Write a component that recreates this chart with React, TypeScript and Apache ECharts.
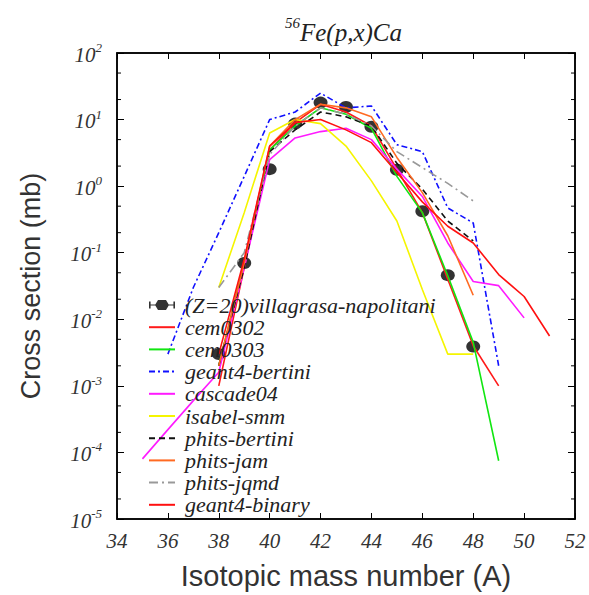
import React, { useEffect, useRef } from 'react';
import * as echarts from 'echarts';

// ---- data ----
const A_EXP = [38, 39, 40, 41, 42, 43, 44, 45, 46, 47, 48];
const EXP = [0.003, 0.07, 1.8, 8.7, 18, 15.5, 7.8, 1.76, 0.42, 0.046, 0.0039];

const A_CEM0302 = [38, 39, 40, 41, 42, 43, 44, 45, 46, 47, 48, 49];
const CEM0302 = [0.001, 0.06, 3.5, 9, 17, 13, 8, 1.8, 0.4, 0.04, 0.004, 0.001];

const A_CEM0303 = [38, 39, 40, 41, 42, 43, 44, 45, 46, 47, 48, 49];
const CEM0303 = [0.002, 0.07, 3.5, 8, 15, 12, 7.4, 1.4, 0.4, 0.045, 0.0045, 0.000075];

const A_G4BERT = [36, 37, 38, 39, 40, 41, 42, 43, 44, 45, 46, 47, 48, 49];
const G4BERT = [0.003, 0.03, 0.2, 1.4, 10, 13, 25, 15, 16, 4.2, 3.3, 0.47, 0.28, 0.002];

const A_CASCADE = [35, 36, 37, 38, 39, 40, 41, 42, 43, 44, 45, 46, 47, 48, 49, 50];
const CASCADE = [0.00008, 0.00022, 0.0006, 0.0016, 0.06, 2.5, 5.3, 6.6, 7.4, 5, 1.8, 0.7, 0.14, 0.037, 0.032, 0.0105];

const A_ISABEL = [38, 39, 40, 41, 42, 43, 44, 45, 46, 47, 48];
const ISABEL = [0.03, 0.4, 6.3, 10, 8.7, 4, 1.2, 0.3, 0.028, 0.003, 0.003];

const A_PBERT = [38, 39, 40, 41, 42, 43, 44, 45, 46, 47, 48];
const PBERT = [0.002, 0.06, 3.3, 7, 13, 11, 8, 2.2, 0.9, 0.3, 0.15];

const A_PJAM = [38, 39, 40, 41, 42, 43, 44, 45, 46, 47, 48];
const PJAM = [0.002, 0.07, 4, 10, 17, 15, 11, 2.7, 0.8, 0.18, 0.023];

const A_PJQMD = [38, 39, 40, 41, 42, 43, 44, 45, 46, 47, 48];
const PJQMD = [0.03, 0.1, 3, 8, 15, 12, 8, 3.3, 1.9, 1.1, 0.6];

const A_G4BIN = [38, 39, 40, 41, 42, 43, 44, 45, 46, 47, 48, 49, 50, 51];
const G4BIN = [0.003, 0.08, 4, 9, 10, 7, 4.5, 1.6, 0.58, 0.25, 0.14, 0.047, 0.022, 0.0056];

const MINOR_TICKS = [
  2e-5, 5e-5, 2e-4, 5e-4, 2e-3, 5e-3, 2e-2, 5e-2, 0.2, 0.5, 2, 5, 20, 50,
];

const EXP_NAME = '(Z=20)villagrasa-napolitani';

const LINES = [
  { name: 'cem0302', a: A_CEM0302, v: CEM0302, color: '#ff1a1a', type: 'solid' as any },
  { name: 'cem0303', a: A_CEM0303, v: CEM0303, color: '#11e611', type: 'solid' as any },
  { name: 'geant4-bertini', a: A_G4BERT, v: G4BERT, color: '#1010ff', type: [6, 3, 2, 3] as any },
  { name: 'cascade04', a: A_CASCADE, v: CASCADE, color: '#ff1aff', type: 'solid' as any },
  { name: 'isabel-smm', a: A_ISABEL, v: ISABEL, color: '#f5f500', type: 'solid' as any },
  { name: 'phits-bertini', a: A_PBERT, v: PBERT, color: '#111111', type: [6, 4] as any },
  { name: 'phits-jam', a: A_PJAM, v: PJAM, color: '#ff6a22', type: 'solid' as any },
  { name: 'phits-jqmd', a: A_PJQMD, v: PJQMD, color: '#999999', type: [9, 4, 2, 4] as any },
  { name: 'geant4-binary', a: A_G4BIN, v: G4BIN, color: '#ff1010', type: 'solid' as any },
];

const SERIF = 'Liberation Serif';
const SANS = 'Liberation Sans';

export default function App() {
  const ref = useRef<HTMLDivElement>(null);
  useEffect(() => {
    const chart = echarts.init(ref.current!, null, { renderer: 'svg' });
    const lineSeries = LINES.map((l) => ({
      type: 'line',
      name: l.name,
      data: l.a.map((a, i) => [a, l.v[i]]),
      symbol: 'none',
      showSymbol: false,
      lineStyle: { color: l.color, width: 1.6, type: l.type },
      itemStyle: { color: l.color },
      z: 3,
    }));
    const option: any = {
      animation: false,
      backgroundColor: '#ffffff',
      title: {
        text: '{s|56}{m|Fe(p,x)Ca}',
        left: 280,
        top: 10,
        textStyle: {
          fontWeight: 'normal',
          rich: {
            s: { fontFamily: SERIF, fontStyle: 'italic', fontWeight: 'normal', fontSize: 15, lineHeight: 15, verticalAlign: 'top', color: '#222' },
            m: { fontFamily: SERIF, fontStyle: 'italic', fontWeight: 'normal', fontSize: 25, lineHeight: 30, verticalAlign: 'bottom', color: '#222' },
          },
        },
      },
      grid: { left: 117, top: 53, right: 14, bottom: 75, show: true, borderColor: '#000', borderWidth: 1.5 },
      legend: {
        orient: 'vertical',
        left: 143,
        top: 289,
        itemWidth: 26,
        itemHeight: 12,
        itemGap: 0.2,
        textStyle: {
          fontFamily: SERIF,
          fontStyle: 'italic',
          fontSize: 22,
          lineHeight: 20,
          color: '#222',
          padding: [0, 0, 0, 5],
        },
        data: [
          {
            name: EXP_NAME,
            icon: 'path://M0,4.4 L26,4.4 L26,5.6 L0,5.6 Z M0,1.5 L1.6,1.5 L1.6,8.5 L0,8.5 Z M24.4,1.5 L26,1.5 L26,8.5 L24.4,8.5 Z M9,0 L17,0 L20,5 L17,10 L9,10 L6,5 Z',
          },
          ...LINES.map((l) => ({ name: l.name, itemStyle: { opacity: 0 } })),
        ],
      },
      xAxis: [
        {
          type: 'value',
          min: 34,
          max: 52,
          interval: 2,
          position: 'bottom',
          axisLine: { show: true, onZero: false, lineStyle: { color: '#000', width: 1.5 } },
          axisTick: { show: true, inside: true, length: 6, lineStyle: { color: '#000', width: 1 } },
          splitLine: { show: false },
          axisLabel: {
            margin: 11,
            fontFamily: SERIF,
            fontStyle: 'italic',
            fontSize: 21,
            color: '#333',
          },
          name: 'Isotopic mass number (A)',
          nameLocation: 'middle',
          nameGap: 42,
          nameTextStyle: { fontFamily: SANS, fontSize: 29, color: '#333' },
        },
        {
          type: 'value',
          min: 34,
          max: 52,
          interval: 2,
          position: 'top',
          axisLine: { show: true, onZero: false, lineStyle: { color: '#000', width: 1.5 } },
          axisTick: { show: true, inside: true, length: 6, lineStyle: { color: '#000', width: 1 } },
          axisLabel: { show: false },
          splitLine: { show: false },
        },
      ],
      yAxis: [
        {
          type: 'log',
          logBase: 10,
          min: 1e-5,
          max: 100,
          splitNumber: 7,
          position: 'left',
          axisLine: { show: true, onZero: false, lineStyle: { color: '#000', width: 1.5 } },
          axisTick: { show: true, inside: true, length: 7, lineStyle: { color: '#000', width: 1 } },
          splitLine: { show: false },
          axisLabel: {
            margin: 15,
            formatter: (v: number) => `{b|10}{s|${Math.round(Math.log10(v))}}`,
            rich: {
              b: { fontFamily: SERIF, fontStyle: 'italic', fontSize: 21, lineHeight: 24, verticalAlign: 'bottom', color: '#333' },
              s: { fontFamily: SERIF, fontStyle: 'italic', fontSize: 13, lineHeight: 13, verticalAlign: 'top', color: '#333' },
            },
          },
          name: 'Cross section (mb)',
          nameLocation: 'middle',
          nameGap: 73,
          nameRotate: 90,
          nameTextStyle: { fontFamily: SANS, fontSize: 27, color: '#333' },
        },
        {
          type: 'log',
          logBase: 10,
          min: 1e-5,
          max: 100,
          splitNumber: 7,
          position: 'right',
          axisLine: { show: true, onZero: false, lineStyle: { color: '#000', width: 1.5 } },
          axisTick: { show: true, inside: true, length: 7, lineStyle: { color: '#000', width: 1 } },
          axisLabel: { show: false },
          splitLine: { show: false },
        },
      ],
      series: [
        {
          type: 'custom',
          name: 'minorTicks',
          silent: true,
          clip: false,
          xAxisIndex: 0,
          yAxisIndex: 0,
          data: MINOR_TICKS.map((v) => [34, v]),
          encode: { x: 0, y: 1 },
          renderItem: (params: any, api: any) => {
            const y = api.coord([api.value(0), api.value(1)])[1];
            const cs = params.coordSys;
            return {
              type: 'group',
              children: [
                { type: 'line', shape: { x1: cs.x, y1: y, x2: cs.x + 4, y2: y }, style: { stroke: '#000', lineWidth: 1 } },
                { type: 'line', shape: { x1: cs.x + cs.width - 4, y1: y, x2: cs.x + cs.width, y2: y }, style: { stroke: '#000', lineWidth: 1 } },
              ],
            };
          },
        },
        {
          type: 'scatter',
          name: EXP_NAME,
          data: A_EXP.map((a, i) => [a, EXP[i]]),
          symbol: 'circle',
          symbolSize: [14, 12],
          itemStyle: { color: '#000' },
          z: 2,
        },
        ...lineSeries,
      ],
    };
    chart.setOption(option);
    return () => chart.dispose();
  }, []);
  return (
    <div
      ref={ref}
      style={{ position: 'fixed', left: 0, top: 0, width: 589, height: 595, background: '#fff' }}
    />
  );
}
